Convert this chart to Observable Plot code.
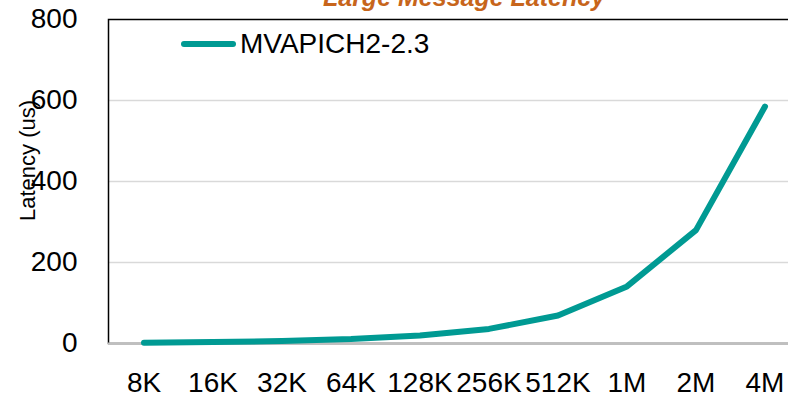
<!DOCTYPE html>
<html>
<head>
<meta charset="utf-8">
<script src="https://cdn.jsdelivr.net/npm/d3@7"></script>
<script src="https://cdn.jsdelivr.net/npm/@observablehq/plot@0.6"></script>
<style>
  html, body { margin: 0; padding: 0; background: #fff; overflow: hidden; }
  #wrap { position: relative; width: 788px; height: 405px; font-family: "Liberation Sans", Arial, sans-serif; }
  #legend { position: absolute; left: 181px; top: 28px; display: flex; align-items: center; font-size: 28px; color: #000; white-space: nowrap; }
  #legend .sw { width: 55px; height: 6px; border-radius: 3px; background: #009a93; margin-right: 4px; }
</style>
</head>
<body>
<div id="wrap"></div>
<script>
const sizes = ["8K", "16K", "32K", "64K", "128K", "256K", "512K", "1M", "2M", "4M"];
const latency = [2, 3.5, 6, 11, 20, 36, 69, 141, 280, 585];
const yTicks = [0, 200, 400, 600, 800];
const gridTicks = [200, 400, 600];
const seriesName = "MVAPICH2-2.3";
const title = "Large Message Latency";
const yLabel = "Latency (us)";

const data = sizes.map((s, i) => ({size: s, latency: latency[i]}));
const teal = "#009a93";

const chart = Plot.plot({
  width: 788,
  height: 405,
  marginLeft: 108,
  marginRight: -11,
  marginTop: 19,
  marginBottom: 62,
  style: {fontFamily: "'Liberation Sans', Arial, sans-serif", fontSize: "28px", color: "#000", background: "#fff", overflow: "visible"},
  x: {type: "band", domain: sizes, padding: 0},
  y: {domain: [0, 800]},
  marks: [
    Plot.ruleY(gridTicks, {stroke: "#d9d9d9", strokeWidth: 1.5}),
    Plot.frame({stroke: "#000", strokeWidth: 1.5}),
    Plot.ruleY([0], {stroke: "#bfbfbf", strokeWidth: 2}),
    Plot.axisY(yTicks, {tickSize: 0, tickPadding: 31, label: null, fontSize: 28}),
    Plot.axisX(sizes, {tickSize: 0, tickPadding: 29, label: null, fontSize: 28}),
    Plot.line(data, {x: "size", y: "latency", stroke: teal, strokeWidth: 6, strokeLinecap: "round", strokeLinejoin: "round"}),
    Plot.text([yLabel], {frameAnchor: "left", text: d => d, rotate: -90, textAnchor: "middle", dx: -74, dy: -21, lineAnchor: "bottom", fontSize: 22, fill: "#000"}),
    Plot.text([title], {frameAnchor: "top", text: d => d, dx: 10, dy: -14, lineAnchor: "bottom", fontSize: 25, fontWeight: "bold", fontStyle: "italic", fill: "#c7651b"})
  ]
});

const wrap = document.getElementById("wrap");
wrap.appendChild(chart);
const legend = document.createElement("div");
legend.id = "legend";
legend.innerHTML = '<div class="sw"></div><span></span>';
legend.querySelector("span").textContent = seriesName;
wrap.appendChild(legend);
</script>
</body>
</html>
